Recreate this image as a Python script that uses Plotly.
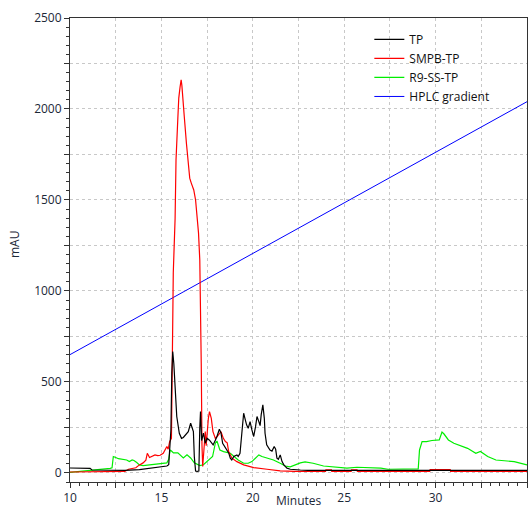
import plotly.graph_objects as go

# Retention time (min) and absorbance (mAU) for each sample
tp_time = [10.0, 11.1, 11.2, 12.0, 13.0, 13.8, 14.5, 14.9, 15.3, 15.4, 15.47, 15.52, 15.57,
           15.62, 15.68, 15.75, 15.84, 15.98, 16.1, 16.2, 16.3, 16.47, 16.6, 16.68, 16.75,
           16.8, 16.87, 16.95, 17.05, 17.1, 17.14, 17.2, 17.3, 17.4, 17.5, 17.63, 17.83,
           17.95, 18.04, 18.17, 18.26, 18.35, 18.5, 18.6, 18.68, 18.77, 18.85, 18.96, 19.13,
           19.2, 19.3, 19.4, 19.5, 19.57, 19.66, 19.75, 19.85, 19.95, 20.05, 20.15, 20.23,
           20.33, 20.4, 20.46, 20.55, 20.63, 20.67, 20.76, 20.94, 21.05, 21.17, 21.25, 21.32,
           21.4, 21.5, 21.6, 21.7, 21.87, 22.05, 22.6, 23.0, 35.0]
tp_mau = [27, 25, 16, 15, 14, 18, 28, 35, 38, 45, 150, 236, 549,
          667, 600, 456, 310, 218, 190, 195, 205, 227, 273, 250, 227,
          90, 10, 8, 10, 250, 337, 178, 218, 163, 190, 180, 154,
          180, 200, 240, 220, 163, 136, 117, 110, 81, 71, 90, 99,
          90, 108, 218, 328, 300, 264, 245, 282, 236, 200, 254, 310,
          282, 260, 320, 374, 300, 218, 154, 126, 120, 145, 130, 81,
          75, 99, 62, 44, 26, 20, 16, 14, 14]

smpb_time = [10.0, 11.0, 12.0, 13.0, 13.2, 13.6, 13.8, 14.0, 14.15, 14.23, 14.35, 14.45,
             14.65, 14.8, 14.93, 15.1, 15.3, 15.37, 15.45, 15.55, 15.6, 15.65, 15.75, 15.8,
             15.9, 15.95, 16.02, 16.08, 16.12, 16.18, 16.25, 16.37, 16.45, 16.55, 16.63,
             16.77, 16.87, 16.95, 17.03, 17.1, 17.14, 17.18, 17.22, 17.26, 17.3, 17.35, 17.4,
             17.45, 17.5, 17.57, 17.63, 17.73, 17.82, 17.95, 18.05, 18.13, 18.26, 18.39, 18.5,
             18.6, 18.68, 18.86, 19.13, 19.5, 20.05, 20.78, 21.5, 22.3, 23.98, 24.0, 24.3,
             24.32, 25.38, 25.4, 25.7, 25.72, 29.68, 29.7, 30.8, 30.82, 35.0]
smpb_mau = [5, 5, 7, 8, 20, 28, 44, 55, 70, 108, 85, 90,
            99, 95, 97, 108, 145, 130, 172, 190, 600, 1100, 1400, 1720,
            1950, 2060, 2120, 2160, 2130, 2030, 1960, 1810, 1700, 1620, 1594,
            1555, 1500, 1420, 1319, 1170, 970, 600, 150, 35, 90, 181, 227,
            150, 236, 300, 337, 300, 227, 190, 200, 209, 227, 190, 172,
            165, 117, 81, 62, 44, 29, 20, 11, 8, 8, 17, 17,
            8, 8, 17, 17, 8, 8, 18, 18, 8, 8]

r9_time = [10.0, 11.0, 11.5, 12.2, 12.3, 12.37, 12.5, 12.65, 13.1, 13.25, 13.4, 13.5, 13.65,
           13.8, 14.0, 14.4, 14.92, 15.3, 15.4, 15.48, 15.55, 15.66, 15.9, 16.2, 16.4, 16.6,
           16.8, 17.1, 17.3, 17.5, 17.8, 17.95, 18.04, 18.2, 18.4, 18.77, 18.96, 19.2, 19.5,
           19.75, 19.95, 20.15, 20.33, 20.5, 20.76, 21.13, 21.5, 21.77, 22.05, 22.3, 22.6,
           22.86, 23.3, 23.87, 24.6, 25.15, 25.7, 26.25, 27.0, 27.4, 28.8, 29.05, 29.12,
           29.26, 29.5, 29.8, 30.2, 30.35, 30.45, 30.7, 31.0, 31.75, 32.2, 32.45, 32.85,
           33.3, 34.3, 35.0]
r9_mau = [3, 12, 15, 25, 28, 90, 85, 78, 71, 62, 71, 68, 57,
          44, 40, 45, 49, 55, 75, 126, 120, 110, 110, 82, 99, 82,
          55, 40, 45, 62, 90, 163, 175, 126, 117, 108, 90, 71, 53,
          53, 62, 81, 99, 90, 81, 71, 53, 38, 33, 44, 55,
          60, 53, 38, 31, 26, 31, 29, 26, 20, 20, 22, 126,
          172, 172, 178, 181, 224, 215, 181, 163, 135, 108, 118, 90,
          71, 62, 44]

gradient_time = [10.0, 35.0]
gradient_mau = [650, 2040]

y_tick_vals = list(range(0, 2501, 250))
y_tick_text = [str(v) if v % 500 == 0 else "" for v in y_tick_vals]
x_tick_vals = [10 + 2.5 * i for i in range(11)]
x_tick_text = [str(int(v)) if v % 5 == 0 else "" for v in x_tick_vals]

FONT = "Open Sans, Noto Sans, sans-serif"
TEXT = "#1c2838"

fig = go.Figure()
fig.add_trace(go.Scatter(x=gradient_time, y=gradient_mau, mode="lines", name="HPLC gradient",
                         line=dict(color="#0000ff", width=1), legendrank=4))
fig.add_trace(go.Scatter(x=r9_time, y=r9_mau, mode="lines", name="R9-SS-TP",
                         line=dict(color="#00ee00", width=1.2), legendrank=3))
fig.add_trace(go.Scatter(x=smpb_time, y=smpb_mau, mode="lines", name="SMPB-TP",
                         line=dict(color="#ff0000", width=1.2), legendrank=2))
fig.add_trace(go.Scatter(x=tp_time, y=tp_mau, mode="lines", name="TP",
                         line=dict(color="#000000", width=1.2), legendrank=1))

grid = dict(showgrid=True, gridcolor="#c8c8c8", griddash="3px,3px", gridwidth=1)

fig.update_xaxes(range=[10, 35], tickvals=x_tick_vals, ticktext=x_tick_text,
                 ticks="outside", ticklen=5, tickcolor="#333", showline=True,
                 linecolor="#333", linewidth=1, mirror=True, zeroline=False,
                 minor=dict(dtick=0.5, ticks="outside", ticklen=3, tickcolor="#333",
                            showgrid=False),
                 tickfont=dict(family=FONT, size=12, color=TEXT), **grid)
fig.update_yaxes(range=[-50, 2500], tickvals=y_tick_vals, ticktext=y_tick_text,
                 ticks="outside", ticklen=5, tickcolor="#333", showline=True,
                 linecolor="#333", linewidth=1, mirror=True, zeroline=False,
                 minor=dict(dtick=50, ticks="outside", ticklen=3, tickcolor="#333",
                            showgrid=False),
                 tickfont=dict(family=FONT, size=12, color=TEXT), **grid)

fig.update_layout(
    width=532, height=512,
    margin=dict(l=70, r=5, t=18, b=30),
    paper_bgcolor="white", plot_bgcolor="white",
    showlegend=True,
    legend=dict(x=0.655, y=0.985, xanchor="left", yanchor="top",
                bgcolor="rgba(0,0,0,0)", borderwidth=0,
                font=dict(family=FONT, size=12, color="#111"),
                itemwidth=30, tracegroupgap=0),
    annotations=[
        dict(text="Minutes", xref="paper", yref="paper", x=0.5, y=-0.062,
             xanchor="center", yanchor="bottom", showarrow=False,
             font=dict(family=FONT, size=12, color=TEXT)),
        dict(text="mAU", xref="paper", yref="paper", x=-0.12, y=0.511,
             xanchor="center", yanchor="middle", textangle=-90, showarrow=False,
             font=dict(family=FONT, size=12, color=TEXT)),
    ],
)

fig.write_html("out.html")
